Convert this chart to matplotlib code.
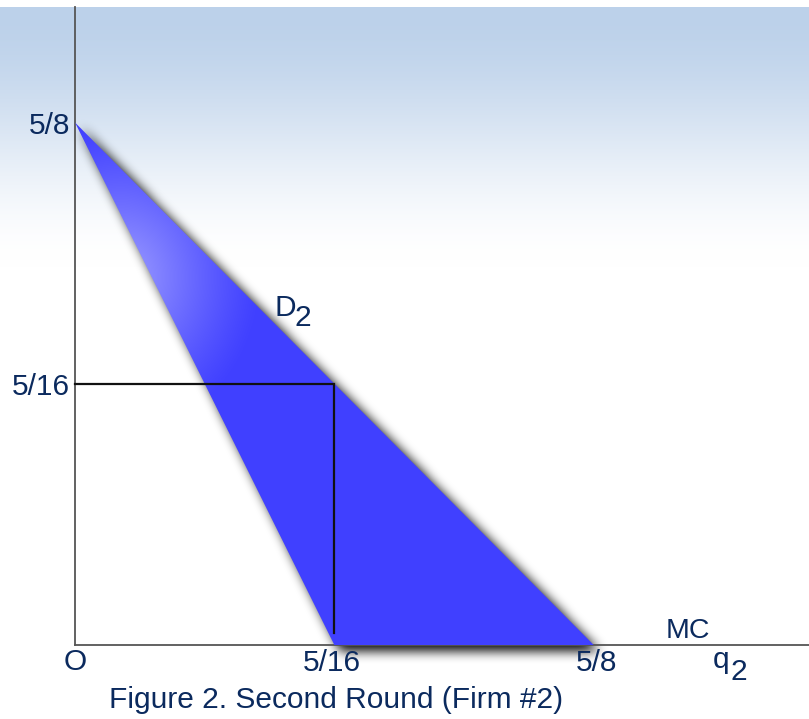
import numpy as np
import matplotlib
matplotlib.use("Agg")
import matplotlib.pyplot as plt
from matplotlib.path import Path
from matplotlib.patches import Polygon

# chart values
price_intercept = 5 / 8
demand_q = [0, 5 / 8]          # D2
demand_p = [5 / 8, 0]
mr_q = [0, 5 / 16]             # marginal revenue
mr_p = [5 / 8, 0]
opt_q = 5 / 16
opt_p = 5 / 16
x_ticks = [5 / 16, 5 / 8]
x_tick_labels = ["5/16", "5/8"]
y_ticks = [5 / 8, 5 / 16]
y_tick_labels = ["5/8", "5/16"]
caption = "Figure 2. Second Round (Firm #2)"

W, H = 809, 719
OX, OY = 75, 645          # origin in pixels
SX, SY = 830, 836         # pixels per unit


def X(px):
    return (px - OX) / SX


def Y(py):
    return (OY - py) / SY


plt.rcParams['font.family'] = ['Liberation Sans', 'DejaVu Sans']
navy = '#0b2a5e'
fs = 21.5

fig = plt.figure(figsize=(W / 100, H / 100), dpi=100)
ax = fig.add_axes([0, 0, 1, 1])
x0, x1 = X(0), X(W)
y0, y1 = Y(H), Y(0)
ax.set_xlim(x0, x1)
ax.set_ylim(y0, y1)
ax.axis('off')

# background: light blue at top fading smoothly to white
rows = np.arange(H)
t = np.clip((rows - 7) / 260.0, 0, 1)
t = t * t * (3 - 2 * t)
top = np.array([188, 209, 234]) / 255.0
bg = top[None, :] * (1 - t[:, None]) + t[:, None]
bg[:7] = 1.0
bg_img = np.repeat(bg[:, None, :], W, axis=1)
ax.imshow(bg_img, extent=(x0, x1, y0, y1), origin='upper', aspect='auto', zorder=0)

# pixel grid (data coords) for shadow and gradient
gx = x0 + (np.arange(W) + 0.5) * (x1 - x0) / W
gy = y1 - (np.arange(H) + 0.5) * (y1 - y0) / H
GX, GY = np.meshgrid(gx, gy)

tri = [(mr_q[0], mr_p[0]), (mr_q[1], mr_p[1]), (demand_q[1], demand_p[1])]

# blurred drop shadow
dx, dy = 6 / SX, -6 / SY
shadow_path = Path([(a + dx, b + dy) for a, b in tri] + [(tri[0][0] + dx, tri[0][1] + dy)])
mask = shadow_path.contains_points(np.c_[GX.ravel(), GY.ravel()]).reshape(H, W).astype(float)
k = np.ones(11) / 11
for _ in range(3):
    mask = np.apply_along_axis(lambda r: np.convolve(r, k, mode='same'), 1, mask)
    mask = np.apply_along_axis(lambda c: np.convolve(c, k, mode='same'), 0, mask)
shadow = np.zeros((H, W, 4))
shadow[..., 3] = np.clip(mask * 1.0, 0, 0.85)
ax.imshow(shadow, extent=(x0, x1, y0, y1), origin='upper', aspect='auto', zorder=1)

# axes lines
ax.plot([0, 0], [0, Y(7)], color='#555555', lw=1.3, zorder=2)
ax.plot([0, X(W)], [0, 0], color='#555555', lw=1.3, zorder=2)

# triangle with light spot near the top left
base = np.array([64, 64, 255]) / 255.0
light = np.array([160, 160, 255]) / 255.0
d = np.hypot(GX - 0.055, (GY - 0.44) * 0.9)
f = np.clip(1 - d / 0.17, 0, 1) ** 1.2
grad = base[None, None, :] * (1 - f[..., None]) + light[None, None, :] * f[..., None]
tri_patch = Polygon(tri, closed=True, facecolor='none', edgecolor='none')
ax.add_patch(tri_patch)
im = ax.imshow(grad, extent=(x0, x1, y0, y1), origin='upper', aspect='auto', zorder=3)
im.set_clip_path(tri_patch)

# optimum lines
ax.plot([0, opt_q, opt_q], [opt_p, opt_p, Y(633)], color='#111111', lw=1.6,
        solid_joinstyle='miter', zorder=4)

# labels
x_label_px = [332, 597]
for v, lab, px in zip(x_ticks, x_tick_labels, x_label_px):
    ax.text(X(px), Y(663), lab, ha='center', va='center', fontsize=fs, color=navy, zorder=5)
for v, lab in zip(y_ticks, y_tick_labels):
    ax.text(X(70), v - 3 / SY, lab, ha='right', va='center', fontsize=fs, color=navy, zorder=5)
ax.text(0, Y(662), "O", ha='center', va='center', fontsize=fs, color=navy, zorder=5)
ax.text(X(688), Y(631), "MC", ha='center', va='center', fontsize=fs - 1, color=navy, zorder=5)
ax.text(X(721), Y(660), "q", ha='center', va='center', fontsize=fs, color=navy, zorder=5)
ax.text(X(739), Y(672), "2", ha='center', va='center', fontsize=fs, color=navy, zorder=5)
ax.text(X(285), Y(308), "D", ha='center', va='center', fontsize=fs, color=navy, zorder=5)
ax.text(X(303), Y(318), "2", ha='center', va='center', fontsize=fs, color=navy, zorder=5)
ax.text(X(336), Y(700), caption, ha='center', va='center', fontsize=fs, color=navy, zorder=5)

fig.savefig("out.png", dpi=100)
